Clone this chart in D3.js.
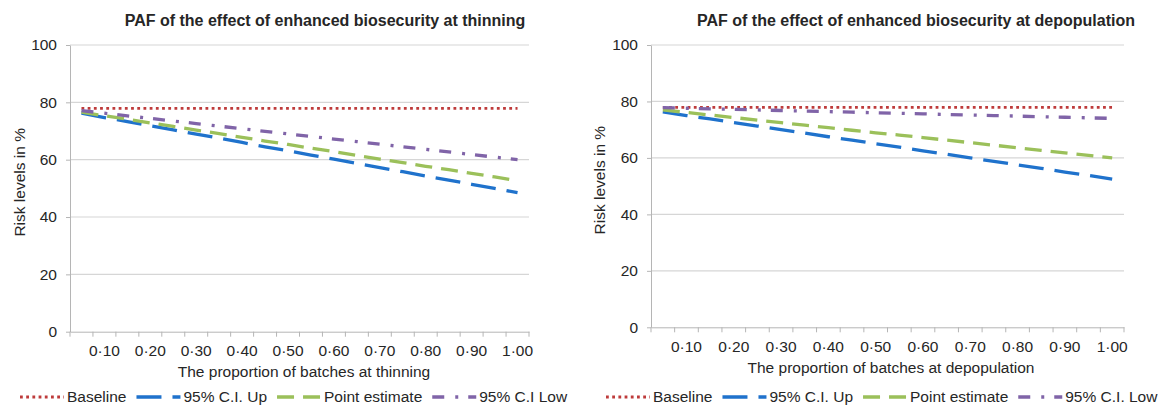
<!DOCTYPE html>
<html>
<head>
<meta charset="utf-8">
<script src="https://cdn.jsdelivr.net/npm/d3@7"></script>
<style>
  body { margin: 0; background: #fff; }
  text { font-family: "Liberation Sans", Arial, sans-serif; fill: #262626; }
</style>
</head>
<body>
<div id="chart"></div>
<script>
// proportion of batches (x categories) and the tick labels shown under them
var categories = [0.05, 0.10, 0.15, 0.20, 0.25, 0.30, 0.35, 0.40, 0.45, 0.50,
                  0.55, 0.60, 0.65, 0.70, 0.75, 0.80, 0.85, 0.90, 0.95, 1.00]
var tickLabels = ["", "0·10", "", "0·20", "", "0·30", "", "0·40", "", "0·50",
                  "", "0·60", "", "0·70", "", "0·80", "", "0·90", "", "1·00"]
var yTicks = [0, 20, 40, 60, 80, 100]

// thinning panel
var thinBaseline = [77.9, 77.9, 77.9, 77.9, 77.9, 77.9, 77.9, 77.9, 77.9, 77.9,
                    77.9, 77.9, 77.9, 77.9, 77.9, 77.9, 77.9, 77.9, 77.9, 77.9]
var thinCiUp = [76.2, 74.7, 73.3, 71.8, 70.4, 68.9, 67.5, 66.0, 64.5, 63.1,
                61.6, 60.2, 58.7, 57.2, 55.8, 54.3, 52.9, 51.4, 50.0, 48.5]
var thinPoint = [76.6, 75.3, 74.1, 72.8, 71.6, 70.3, 69.1, 67.8, 66.5, 65.3,
                 64.0, 62.8, 61.5, 60.2, 59.0, 57.7, 56.5, 55.2, 54.0, 52.7]
var thinCiLow = [77.1, 76.2, 75.3, 74.4, 73.5, 72.6, 71.7, 70.8, 69.9, 69.0,
                 68.1, 67.2, 66.3, 65.4, 64.5, 63.6, 62.7, 61.8, 60.9, 60.0]

// depopulation panel
var depBaseline = [77.9, 77.9, 77.9, 77.9, 77.9, 77.9, 77.9, 77.9, 77.9, 77.9,
                   77.9, 77.9, 77.9, 77.9, 77.9, 77.9, 77.9, 77.9, 77.9, 77.9]
var depCiUp = [76.3, 75.0, 73.8, 72.5, 71.3, 70.0, 68.8, 67.5, 66.3, 65.0,
               63.8, 62.5, 61.3, 60.0, 58.8, 57.5, 56.3, 55.0, 53.8, 52.5]
var depPoint = [77.0, 76.1, 75.2, 74.3, 73.4, 72.5, 71.6, 70.7, 69.8, 68.9,
                68.1, 67.2, 66.3, 65.4, 64.5, 63.6, 62.7, 61.8, 60.9, 60.0]
var depCiLow = [77.8, 77.6, 77.4, 77.2, 77.0, 76.8, 76.6, 76.4, 76.2, 76.0,
                75.8, 75.6, 75.4, 75.2, 75.0, 74.8, 74.6, 74.4, 74.2, 74.0]

var thinLegend = ["Baseline", "95% C.I. Up", "Point estimate", "95% C.I Low"]
var depLegend = ["Baseline", "95% C.I. Up", "Point estimate", "95% C.I. Low"]

// line styles, same order as the series
var styles = [
    { color: "#be3b3b", dash: "2.8 3.4", width: 2.8 },
    { color: "#1f72cc", dash: "25 11", width: 3.3 },
    { color: "#9bc05a", dash: "17 9", width: 3.3 },
    { color: "#8064a8", dash: "12 11 3 10", width: 3.3 }
]

var svg = d3.select("#chart")
    .append("svg")
    .attr("width", 1161)
    .attr("height", 405)

function drawPanel(p) {
    var g = svg.append("g")

    var x = d3.scaleBand()
        .domain(categories)
        .range([p.left, p.right])
        .padding(0)
    var y = d3.scaleLinear()
        .domain([0, 100])
        .range([p.bottom, p.top])

    // gridlines
    g.append("g")
        .selectAll("line")
        .data(yTicks.filter(d => d > 0))
        .join("line")
        .attr("x1", p.left)
        .attr("x2", p.right)
        .attr("y1", d => y(d))
        .attr("y2", d => y(d))
        .attr("stroke", "#d6d6d6")
        .attr("stroke-width", 1.2)

    // y axis
    var ya = g.append("g")
        .attr("transform", "translate(" + p.left + ",0)")
        .call(d3.axisLeft(y).tickValues(yTicks).tickSize(4).tickPadding(9).tickSizeOuter(0))
    ya.select(".domain").attr("stroke", "#b5b5b5")
    ya.selectAll(".tick line").attr("stroke", "#b5b5b5")
    ya.selectAll(".tick text").style("font-size", "15.5px").attr("fill", "#262626")

    // x axis, labels on every other category
    var xa = g.append("g")
        .attr("transform", "translate(0," + p.bottom + ")")
        .call(d3.axisBottom(x).tickFormat((d, i) => tickLabels[i]).tickSize(0).tickSizeOuter(0))
    xa.select(".domain").attr("stroke", "#b5b5b5")
    xa.selectAll(".tick text")
        .attr("y", 19)
        .attr("dy", "0.35em")
        .style("font-size", "15.5px")
        .attr("fill", "#262626")

    // tick marks between the categories
    var bounds = categories.map(c => x(c)).concat([p.right])
    xa.selectAll(".bound")
        .data(bounds)
        .join("line")
        .attr("class", "bound")
        .attr("x1", d => d)
        .attr("x2", d => d)
        .attr("y1", 0)
        .attr("y2", 5)
        .attr("stroke", "#b5b5b5")

    // series
    var line = d3.line()
        .x((d, i) => x(categories[i]) + x.bandwidth() / 2)
        .y(d => y(d))
    p.series.forEach(function(s, i) {
        g.append("path")
            .datum(s)
            .attr("d", line)
            .attr("fill", "none")
            .attr("stroke", styles[i].color)
            .attr("stroke-width", styles[i].width)
            .attr("stroke-dasharray", styles[i].dash)
    })

    // titles
    g.append("text")
        .attr("x", p.titleX)
        .attr("y", 20)
        .attr("dy", "0.35em")
        .attr("text-anchor", "middle")
        .style("font-size", "16px")
        .style("font-weight", "bold")
        .text(p.title)

    g.append("text")
        .attr("transform", "translate(" + p.yLabelX + "," + ((p.top + p.bottom) / 2 - 6) + ") rotate(-90)")
        .attr("dy", "0.35em")
        .attr("text-anchor", "middle")
        .style("font-size", "15.5px")
        .text("Risk levels in %")

    g.append("text")
        .attr("x", p.xLabelX)
        .attr("y", p.bottom + 40)
        .attr("dy", "0.35em")
        .attr("text-anchor", "middle")
        .style("font-size", "15.5px")
        .text(p.xLabel)

    // legend
    var lx = p.legendX
    p.legend.forEach(function(name, i) {
        g.append("line")
            .attr("x1", lx)
            .attr("x2", lx + 44)
            .attr("y1", 397)
            .attr("y2", 397)
            .attr("stroke", styles[i].color)
            .attr("stroke-width", styles[i].width)
            .attr("stroke-dasharray", styles[i].dash)
        var t = g.append("text")
            .attr("x", lx + 47)
            .attr("y", 397)
            .attr("dy", "0.35em")
            .style("font-size", "15.5px")
            .text(name)
        lx = lx + 47 + t.node().getComputedTextLength() + 10
    })
}

drawPanel({
    left: 70, right: 529, top: 45, bottom: 331.7,
    series: [thinBaseline, thinCiUp, thinPoint, thinCiLow],
    title: "PAF of the effect of enhanced biosecurity at thinning",
    titleX: 325,
    yLabelX: 20,
    xLabel: "The proportion of batches at thinning",
    xLabelX: 304,
    legend: thinLegend,
    legendX: 20
})

drawPanel({
    left: 651, right: 1124, top: 45, bottom: 327.3,
    series: [depBaseline, depCiUp, depPoint, depCiLow],
    title: "PAF of the effect of enhanced biosecurity at depopulation",
    titleX: 916,
    yLabelX: 600,
    xLabel: "The proportion of batches at depopulation",
    xLabelX: 891,
    legend: depLegend,
    legendX: 606
})
</script>
</body>
</html>
